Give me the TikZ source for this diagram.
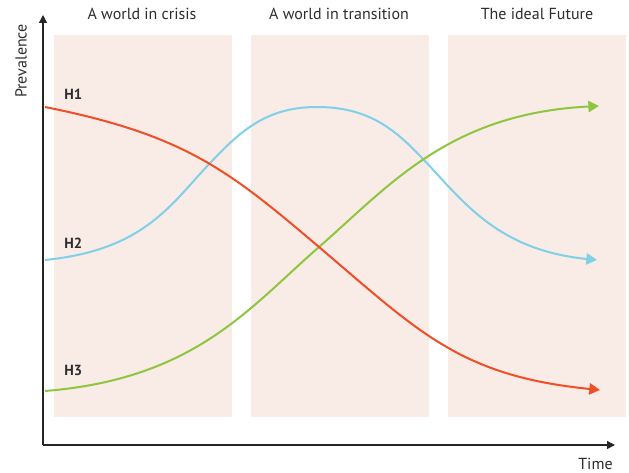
\documentclass[tikz,border=0pt]{standalone}
\usepackage{fontspec}
\setmainfont{PT Sans}
\usetikzlibrary{arrows.meta}
\definecolor{panel}{RGB}{249,235,230}
\definecolor{hred}{RGB}{240,78,38}
\definecolor{hblue}{RGB}{127,208,232}
\definecolor{hgreen}{RGB}{141,198,63}
\definecolor{txt}{RGB}{45,45,45}
\begin{document}
\begin{tikzpicture}[x=0.75pt,y=-0.75pt,
  panelbox/.style={fill=panel,draw=none},
  title/.style={anchor=base,text=txt,font=\fontsize{12}{14}\selectfont,inner sep=0pt},
  axislabel/.style={anchor=base,text=txt,font=\fontsize{12}{14}\selectfont,inner sep=0pt},
  hlabel/.style={anchor=base west,text=txt,font=\bfseries\fontsize{11}{13}\selectfont,inner sep=0pt},
  axis/.style={draw=black!85,line width=0.9pt,-{Triangle[length=6pt,width=6pt]}},
  curve/.style={line width=1.5pt,-{Triangle[length=8pt,width=8.5pt]}}]
\useasboundingbox (0,0) rectangle (629,473);
% panels
\fill[panelbox] (54,35) rectangle (232,417);
\fill[panelbox] (251,35) rectangle (429,417);
\fill[panelbox] (448,35) rectangle (626,417);
% titles
\node[title] (t1) at (142,19.5) {A world in crisis};
\node[title] (t2) at (339,19.5) {A world in transition};
\node[title] (t3) at (537,19.5) {The ideal Future};
% axes
\coordinate (o) at (43,445);
\coordinate (ytop) at (43,15);
\coordinate (xend) at (615,445);
\draw[axis] (o) -- (ytop);
\draw[axis] (o) -- (xend);
\node[axislabel,rotate=90] (ylab) at (26.7,61) {Prevalence};
\node[axislabel] (xlab) at (595.5,469.3) {Time};
% curves
\coordinate (h1a) at (45,107);
\coordinate (h1m) at (319,247);
\coordinate (h1b) at (600,390);
\coordinate (h2a) at (45,260);
\coordinate (h2i) at (211,162);
\coordinate (h2p) at (317,107);
\coordinate (h2j) at (423,159);
\coordinate (h2b) at (597,260);
\coordinate (h3a) at (45,391);
\coordinate (h3m) at (319,247);
\coordinate (h3b) at (599,106);
\draw[curve,hblue] (h2a) .. controls (145,250) and (171,204) .. (h2i)
  .. controls (241,130.5) and (267,107) .. (h2p)
  .. controls (367,107) and (394,128) .. (h2j)
  .. controls (463,201) and (497,250) .. (h2b);
\draw[curve,hgreen] (h3a) .. controls (195,379) and (249,308) .. (h3m)
  .. controls (389,186) and (449,113.5) .. (h3b);
\draw[curve,hred] (h1a) .. controls (185,135) and (229,170.5) .. (h1m)
  .. controls (419,332) and (460,376) .. (h1b);
% labels
\node[hlabel] (l1) at (64,100) {H1};
\node[hlabel] (l2) at (64,248.3) {H2};
\node[hlabel] (l3) at (64,376) {H3};
\end{tikzpicture}
\end{document}
